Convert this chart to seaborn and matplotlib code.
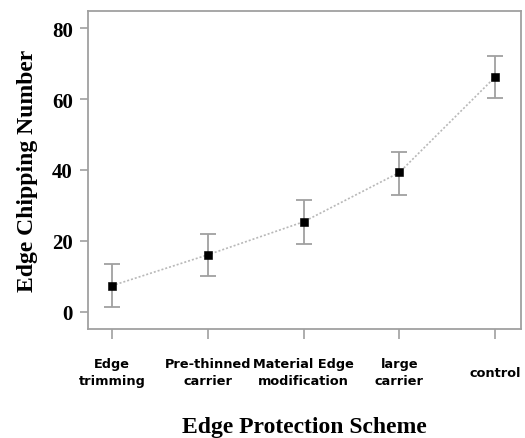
import numpy as np
import pandas as pd
import matplotlib
matplotlib.use('Agg')
import matplotlib.pyplot as plt
import seaborn as sns

# values
schemes = ['Edge\ntrimming', 'Pre-thinned\ncarrier', 'Material Edge\nmodification',
           'large\ncarrier', 'control']
mean_chips = [7.4, 16.1, 25.4, 39.3, 66.2]
err_low = [1.3, 10.1, 19.2, 33.0, 60.3]
err_high = [13.5, 22.1, 31.5, 45.2, 72.0]

df = pd.DataFrame({'pos': np.arange(len(schemes)), 'scheme': schemes, 'mean': mean_chips,
                   'low': err_low, 'high': err_high})

sns.set_style('ticks')
plt.rcParams['font.family'] = ['Liberation Serif', 'DejaVu Serif']
plt.rcParams['text.color'] = 'black'
plt.rcParams['axes.labelcolor'] = 'black'

fig = plt.figure(figsize=(5.25, 4.39), dpi=100)
ax = fig.add_axes([88/525, 1 - 330/439, (521-88)/525, (330-12)/439])

grey = '#a0a0a0'
ax.errorbar(df['pos'], df['mean'],
            yerr=[df['mean'] - df['low'], df['high'] - df['mean']],
            fmt='none', ecolor=grey, elinewidth=1.3, capsize=6, capthick=1.3, zorder=2)
sns.lineplot(data=df, x='pos', y='mean', ax=ax, color='#b8b8b8', linestyle=(0, (1.2, 1.2)),
             linewidth=1.2, zorder=3)
sns.scatterplot(data=df, x='pos', y='mean', ax=ax, marker='s', color='black', s=28,
                edgecolor='black', zorder=4)

ax.set_xlim(-0.25, 4.27)
ax.set_ylim(-4.8, 84.8)
ax.set_yticks([0, 20, 40, 60, 80])
ax.set_xticks(df['pos'])
ax.set_xticklabels(df['scheme'], family='DejaVu Sans', fontweight='bold', fontsize=9.3,
                   linespacing=1.35, va='center', color='black')
ax.tick_params(axis='x', direction='out', length=7, width=1.2, color=grey, pad=24)
ax.tick_params(axis='y', direction='out', length=6, width=1.2, color=grey, pad=5)
for lbl in ax.get_yticklabels():
    lbl.set_fontweight('bold')
    lbl.set_fontsize(15)
    lbl.set_color('black')

for sp in ax.spines.values():
    sp.set_color(grey)
    sp.set_linewidth(1.3)

ax.set_xlabel('Edge Protection Scheme', fontsize=17, fontweight='bold', labelpad=21)
ax.set_ylabel('Edge Chipping Number', fontsize=17, fontweight='bold', labelpad=10)

fig.savefig('out.png', dpi=100)
